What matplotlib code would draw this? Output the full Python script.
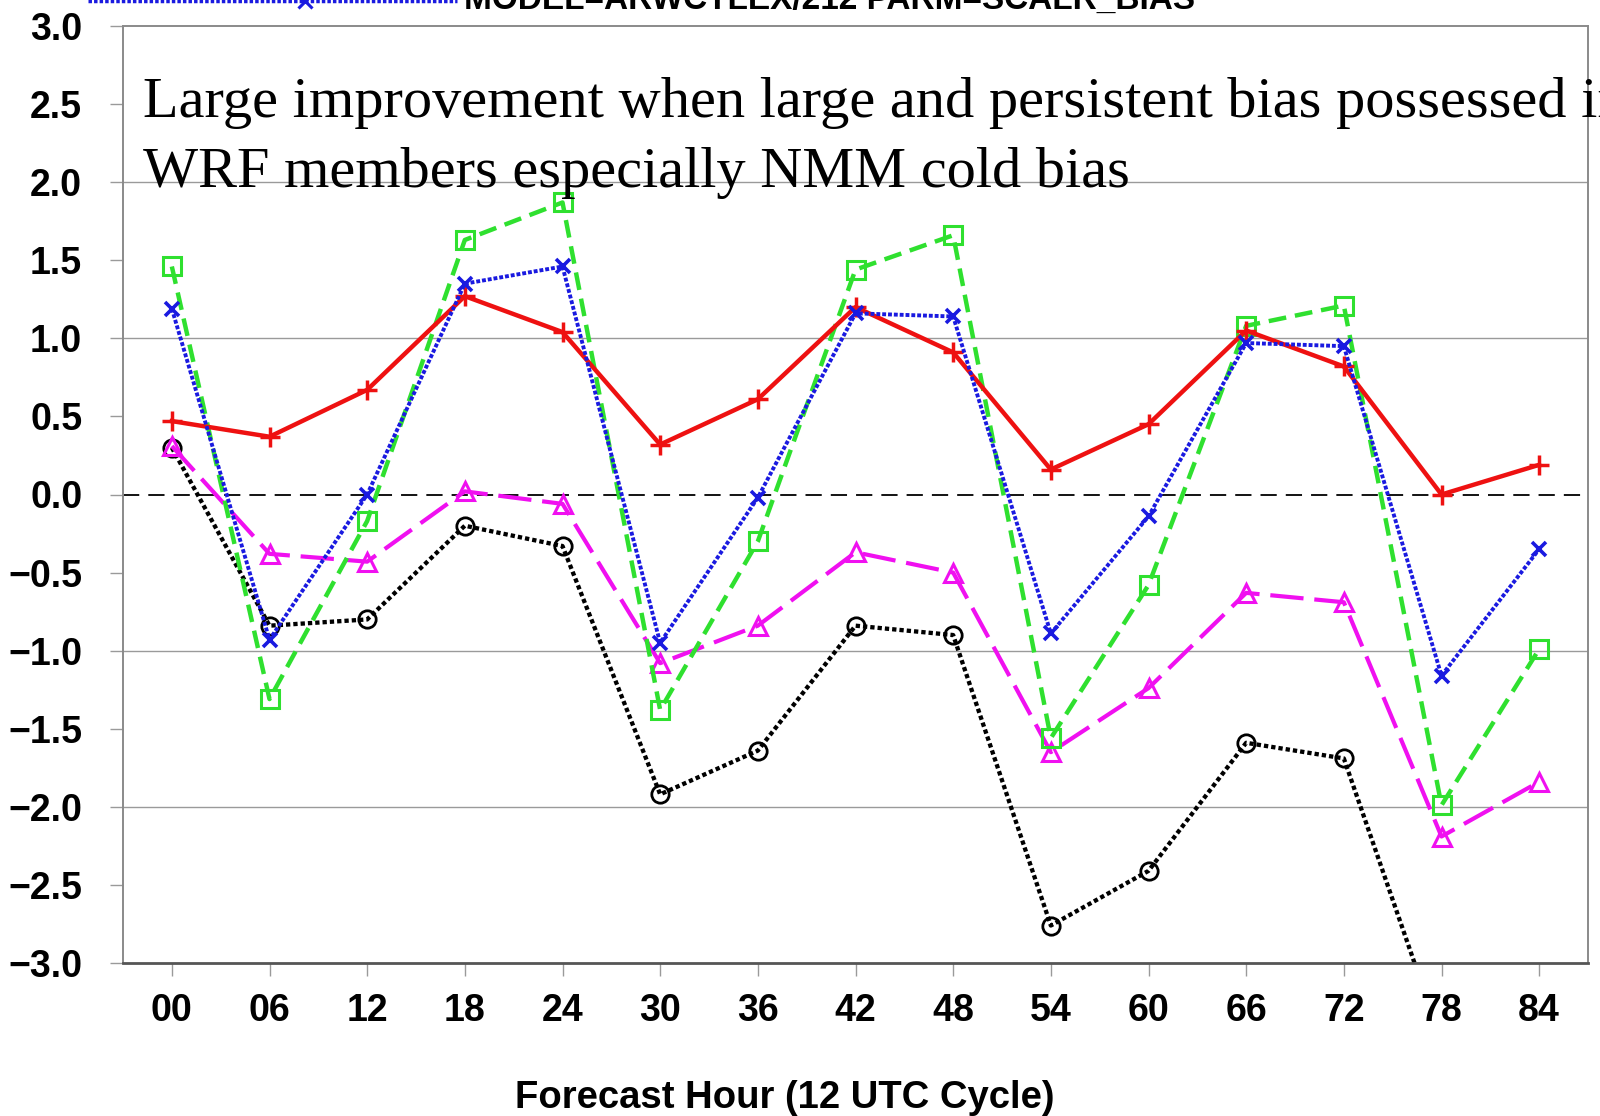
#!/usr/bin/env python3
"""plot.py -- forecast-hour bias chart (12 UTC cycle)."""

import matplotlib
matplotlib.use("Agg")
import matplotlib.pyplot as plt
import numpy as np
from matplotlib.font_manager import FontProperties
from matplotlib.lines import Line2D

# forecast hours and tick labels
hours = [0, 6, 12, 18, 24, 30, 36, 42, 48, 54, 60, 66, 72, 78, 84]
hour_labels = ["00", "06", "12", "18", "24", "30", "36", "42", "48", "54",
               "60", "66", "72", "78", "84"]

# bias per member
red_plus = [0.47, 0.37, 0.67, 1.27, 1.04, 0.32, 0.61, 1.20, 0.91, 0.16,
            0.45, 1.05, 0.82, 0.00, 0.19]
blue_x = [1.19, -0.93, 0.00, 1.35, 1.46, -0.95, -0.02, 1.16, 1.14, -0.89,
          -0.14, 0.97, 0.95, -1.16, -0.35]
green_sq = [1.46, -1.31, -0.17, 1.63, 1.87, -1.38, -0.30, 1.44, 1.66, -1.56,
            -0.58, 1.08, 1.21, -1.99, -0.99]
magenta_tri = [0.31, -0.38, -0.43, 0.02, -0.06, -1.08, -0.84, -0.37, -0.50,
               -1.65, -1.24, -0.63, -0.69, -2.19, -1.84]
black_circ = [0.30, -0.84, -0.80, -0.20, -0.33, -1.92, -1.64, -0.84, -0.90,
              -2.76, -2.41, -1.59, -1.69, -3.50, np.nan]

y_ticks = [3.0, 2.5, 2.0, 1.5, 1.0, 0.5, 0.0, -0.5, -1.0, -1.5, -2.0, -2.5, -3.0]
grid_levels = [2.0, 1.0, -1.0, -2.0]

title = "MODEL=ARWCTLEX/212 PARM=SCALR_BIAS"
note_1 = "Large improvement when large and persistent bias possessed in"
note_2 = "WRF members especially NMM cold bias"
x_title = "Forecast Hour (12 UTC Cycle)"

W, H = 1600, 1116
fig = plt.figure(figsize=(W / 100, H / 100), dpi=100)
ax = fig.add_axes([123 / W, 1 - 963 / H, (1588 - 123) / W, (963 - 26) / H])

# reference lines
for g in grid_levels:
    ax.axhline(g, color="#9a9a9a", lw=1.0, zorder=1)
ax.axhline(0, color="black", lw=1.3, ls=(0, (9, 5)), zorder=1)

ax.plot(hours, red_plus, color="#ee1111", lw=3.2, ls="-",
        marker="+", ms=14, mew=2.5, zorder=5)
ax.plot(hours, blue_x, color="#1a1ae0", lw=2.8, ls=(0, (1, 0.5)),
        marker="x", ms=10, mew=2.6, zorder=6)
ax.plot(hours, green_sq, color="#2fe02f", lw=3.2, ls=(0, (4, 2.0)),
        marker="s", ms=12.5, mfc="none", mew=2.2, zorder=4)
ax.plot(hours, magenta_tri, color="#f010f0", lw=3.0, ls=(0, (8, 2.6)),
        marker="^", ms=12.5, mfc="none", mew=2.2, zorder=3)
ax.plot(hours, black_circ, color="black", lw=3.1, ls=(0, (1, 0.7)),
        marker="o", ms=12.5, mfc="none", mew=2.0, zorder=2)

ax.set_xlim(-3, 87)
ax.set_ylim(-3.0, 3.0)
ax.set_xticks(hours)
ax.set_xticklabels(hour_labels)
ax.set_yticks(y_ticks)
ax.set_yticklabels([f"{v:.1f}".replace("-", "\u2212") for v in y_ticks])

for sp in ax.spines.values():
    sp.set_color("#8a8a8a")
    sp.set_linewidth(1.4)
ax.spines["bottom"].set_color("#555555")
ax.spines["bottom"].set_linewidth(2.0)

tick_font = FontProperties(family="Liberation Sans", weight="bold", size=27)
ax.tick_params(axis="both", direction="out", length=9.4, width=1.0,
               color="#9a9a9a")
ax.tick_params(axis="x", pad=12)
ax.tick_params(axis="y", pad=20)
for lab in ax.get_xticklabels() + ax.get_yticklabels():
    lab.set_fontproperties(tick_font)

fig.text(785 / W, 1 - 1108 / H, x_title, ha="center", va="baseline",
         family="Liberation Sans", weight="bold", size=27.5)

# clipped title and legend entry at the very top
fig.text(464 / W, 1 - 9 / H, title, ha="left", va="baseline",
         family="Liberation Sans", weight="bold", size=24)
fig.add_artist(Line2D([88 / W, 457 / W], [1 - 1 / H, 1 - 1 / H],
                      transform=fig.transFigure, color="#1a1ae0", lw=2.5,
                      ls=(0, (1, 0.6))))
fig.add_artist(Line2D([305 / W], [1 - 1 / H], transform=fig.transFigure,
                      color="#1a1ae0", marker="x", ms=10, mew=2.2))

# overlaid slide annotation
fig.text(143 / W, 1 - 117 / H, note_1, ha="left", va="baseline",
         family="Liberation Serif", size=42, zorder=10)
fig.text(143 / W, 1 - 187 / H, note_2, ha="left", va="baseline",
         family="Liberation Serif", size=42, zorder=10)

fig.savefig("out.png", dpi=100)
